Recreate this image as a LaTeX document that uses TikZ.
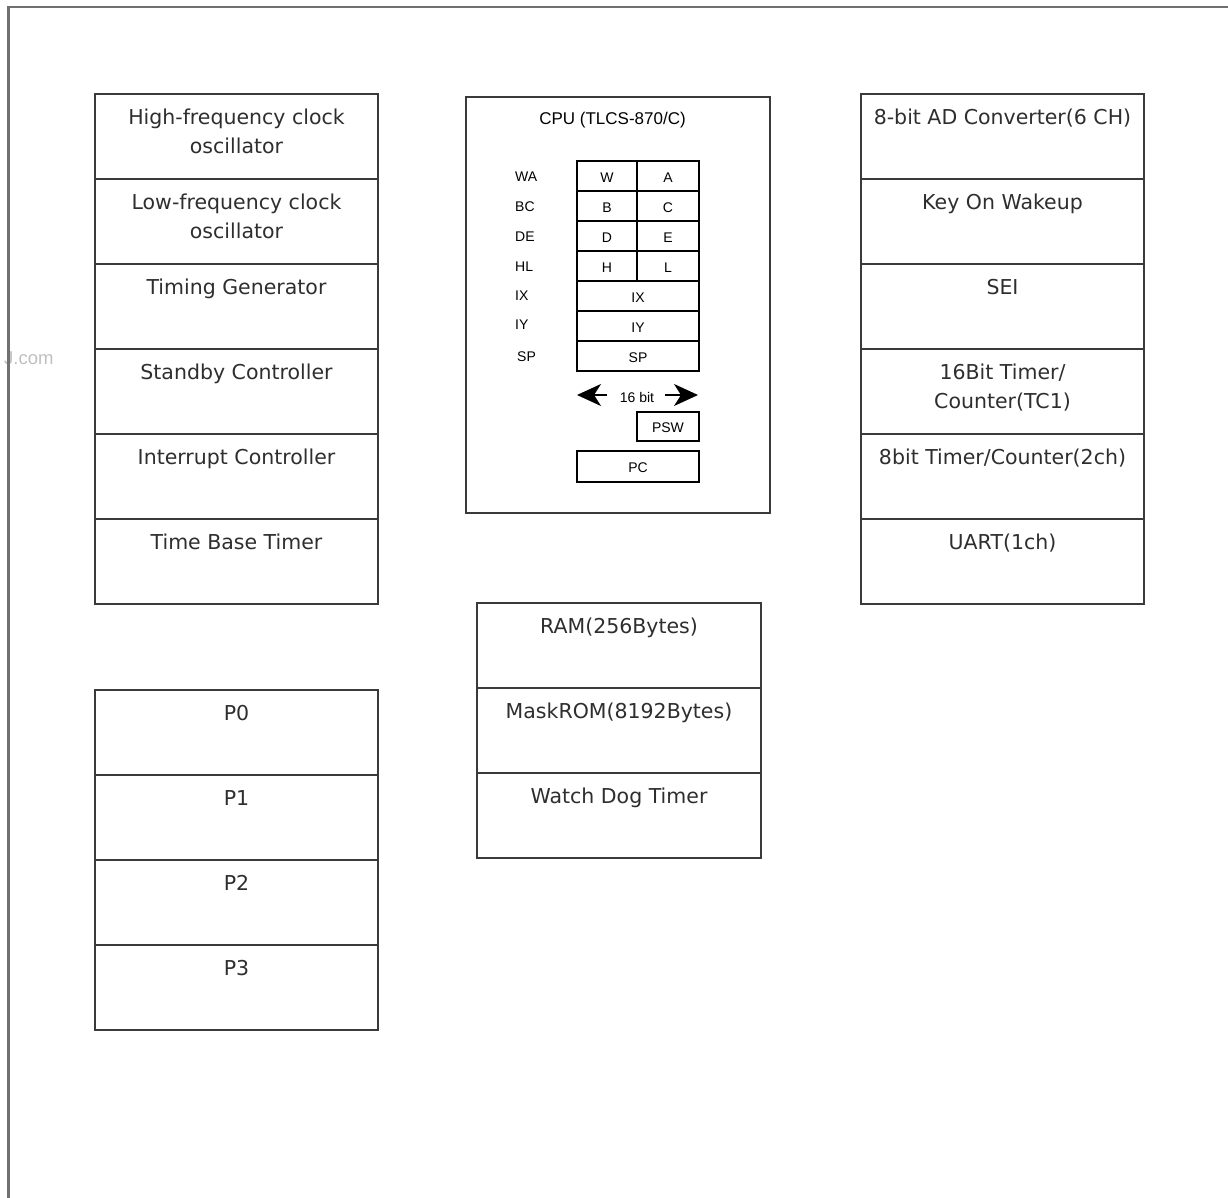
\documentclass[tikz,border=0pt]{standalone}
\usepackage{fontspec}
\setmainfont{DejaVu Sans}
\newfontfamily\cpufont{Liberation Sans}
\usetikzlibrary{arrows.meta}
\definecolor{boxgray}{HTML}{3A3A3A}
\definecolor{textgray}{HTML}{2E2E2E}
\definecolor{framegray}{HTML}{707070}
\begin{document}
\begin{tikzpicture}[x=1pt,y=-1pt,
  cell/.style={draw=boxgray, line width=1.8pt, rectangle, anchor=north west,
    minimum width=283pt, minimum height=85pt, inner sep=0pt, outer sep=0pt},
  ctext/.style={anchor=north, inner sep=0pt, align=center,
    font=\fontsize{20.5}{29}\selectfont, text=textgray},
  reg/.style={draw=black, line width=1.4pt, rectangle, anchor=north west,
    inner sep=0pt, outer sep=0pt, minimum height=30pt},
  regtxt/.style={inner sep=0pt, font=\cpufont\fontsize{14}{15}\selectfont},
  reglbl/.style={anchor=west, inner sep=0pt, font=\cpufont\fontsize{14}{15}\selectfont},
  bigarrow/.style={line width=1.8pt, -{Stealth[length=24pt,width=22pt,inset=7pt]}}
]
\useasboundingbox (0,0) rectangle (1228,1198);

% watermark fragment
\node[anchor=west, inner sep=0pt, text=black!25, font=\cpufont\fontsize{18.5}{19}\selectfont] (wm) at (4,358) {J.com};

% outer frame (left and top only)
\draw[framegray, line width=2.6pt] (8.7,1198) -- (8.7,7.2) -- (1228,7.2);

% ---------- left column ----------
\node[cell] (l1) at (95,94) {};
\node[cell] (l2) at (95,179) {};
\node[cell] (l3) at (95,264) {};
\node[cell] (l4) at (95,349) {};
\node[cell] (l5) at (95,434) {};
\node[cell] (l6) at (95,519) {};
\node[ctext] (tl1) at ([yshift=-15pt]l1.north) {High-frequency clock\\oscillator};
\node[ctext] (tl2) at ([yshift=-15pt]l2.north) {Low-frequency clock\\oscillator};
\node[ctext] (tl3) at ([yshift=-15pt]l3.north) {Timing Generator};
\node[ctext] (tl4) at ([yshift=-15pt]l4.north) {Standby Controller};
\node[ctext] (tl5) at ([yshift=-15pt]l5.north) {Interrupt Controller};
\node[ctext] (tl6) at ([yshift=-15pt]l6.north) {Time Base Timer};

% ---------- ports ----------
\node[cell] (p0) at (95,690) {};
\node[cell] (p1) at (95,775) {};
\node[cell] (p2) at (95,860) {};
\node[cell] (p3) at (95,945) {};
\node[ctext] (tp0) at ([yshift=-15pt]p0.north) {P0};
\node[ctext] (tp1) at ([yshift=-15pt]p1.north) {P1};
\node[ctext] (tp2) at ([yshift=-15pt]p2.north) {P2};
\node[ctext] (tp3) at ([yshift=-15pt]p3.north) {P3};

% ---------- memory column ----------
\node[cell, minimum width=284pt] (m1) at (477,603) {};
\node[cell, minimum width=284pt] (m2) at (477,688) {};
\node[cell, minimum width=284pt] (m3) at (477,773) {};
\node[ctext] (tm1) at ([yshift=-15pt]m1.north) {RAM(256Bytes)};
\node[ctext] (tm2) at ([yshift=-15pt]m2.north) {MaskROM(8192Bytes)};
\node[ctext] (tm3) at ([yshift=-15pt]m3.north) {Watch Dog Timer};

% ---------- right column ----------
\node[cell] (r1) at (861,94) {};
\node[cell] (r2) at (861,179) {};
\node[cell] (r3) at (861,264) {};
\node[cell] (r4) at (861,349) {};
\node[cell] (r5) at (861,434) {};
\node[cell] (r6) at (861,519) {};
\node[ctext] (tr1) at ([yshift=-15pt]r1.north) {8-bit AD Converter(6 CH)};
\node[ctext] (tr2) at ([yshift=-15pt]r2.north) {Key On Wakeup};
\node[ctext] (tr3) at ([yshift=-15pt]r3.north) {SEI};
\node[ctext] (tr4) at ([yshift=-15pt]r4.north) {16Bit Timer/\\Counter(TC1)};
\node[ctext] (tr5) at ([yshift=-15pt]r5.north) {8bit Timer/Counter(2ch)};
\node[ctext] (tr6) at ([yshift=-15pt]r6.north) {UART(1ch)};

% ---------- CPU ----------
\node[draw=boxgray, line width=1.8pt, rectangle, anchor=north west, inner sep=0pt, outer sep=0pt,
  minimum width=304pt, minimum height=416pt] (cpu) at (466,97) {};
\node[inner sep=0pt, font=\cpufont\fontsize{17}{18}\selectfont] (cputitle) at (612.5,120) {CPU (TLCS-870/C)};

% register file
\node[reg, minimum width=60pt] (rw) at (577,161) {};
\node[reg, minimum width=62pt] (ra) at (637,161) {};
\node[reg, minimum width=60pt] (rb) at (577,191) {};
\node[reg, minimum width=62pt] (rc) at (637,191) {};
\node[reg, minimum width=60pt] (rd) at (577,221) {};
\node[reg, minimum width=62pt] (re) at (637,221) {};
\node[reg, minimum width=60pt] (rh) at (577,251) {};
\node[reg, minimum width=62pt] (rl) at (637,251) {};
\node[reg, minimum width=122pt] (rix) at (577,281) {};
\node[reg, minimum width=122pt] (riy) at (577,311) {};
\node[reg, minimum width=122pt] (rsp) at (577,341) {};

\node[regtxt] (tw) at ([yshift=-2pt]rw.center) {W};
\node[regtxt] (ta) at ([yshift=-2pt]ra.center) {A};
\node[regtxt] (tb) at ([yshift=-2pt]rb.center) {B};
\node[regtxt] (tc) at ([yshift=-2pt]rc.center) {C};
\node[regtxt] (td) at ([yshift=-2pt]rd.center) {D};
\node[regtxt] (te) at ([yshift=-2pt]re.center) {E};
\node[regtxt] (th) at ([yshift=-2pt]rh.center) {H};
\node[regtxt] (tl) at ([yshift=-2pt]rl.center) {L};
\node[regtxt] (tix) at ([yshift=-2pt]rix.center) {IX};
\node[regtxt] (tiy) at ([yshift=-2pt]riy.center) {IY};
\node[regtxt] (tsp) at ([yshift=-2pt]rsp.center) {SP};

\node[reglbl] (lwa) at (515,177) {WA};
\node[reglbl] (lbc) at (515,207) {BC};
\node[reglbl] (lde) at (515,237) {DE};
\node[reglbl] (lhl) at (515,267) {HL};
\node[reglbl] (lix) at (515,296) {IX};
\node[reglbl] (liy) at (515,325) {IY};
\node[reglbl] (lsp) at (517,357) {SP};

% 16 bit arrows
\node[inner sep=0pt, font=\cpufont\fontsize{14}{15}\selectfont] (bits) at (637,397) {16 bit};
\coordinate (al0) at (607,395);
\coordinate (al1) at (577,395);
\coordinate (ar0) at (665,395);
\coordinate (ar1) at (698,395);
\draw[bigarrow] (al0) -- (al1);
\draw[bigarrow] (ar0) -- (ar1);

% PSW and PC
\node[reg, minimum width=62pt, minimum height=29pt] (psw) at (637,412) {};
\node[regtxt] (tpsw) at ([yshift=-1pt]psw.center) {PSW};
\node[reg, minimum width=122pt, minimum height=31pt] (pc) at (577,451) {};
\node[regtxt] (tpc) at ([yshift=-1pt]pc.center) {PC};

\end{tikzpicture}
\end{document}
